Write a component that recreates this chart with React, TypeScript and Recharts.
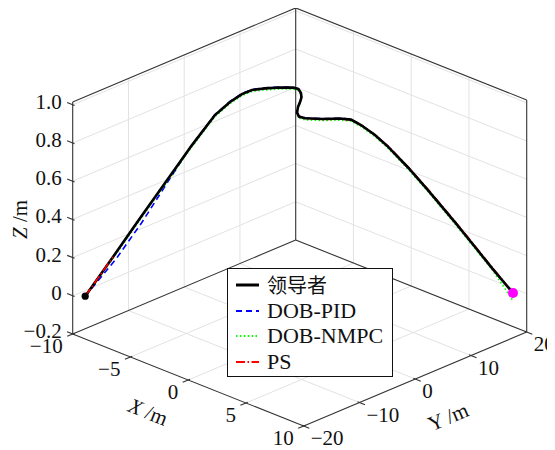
import React from 'react';
import { ComposedChart, XAxis, YAxis, Line, Scatter, Legend } from 'recharts';

// ---------- axes ----------
const X_LIM = [-10, 10];
const Y_LIM = [-20, 20];
const Z_LIM = [-0.2, 1.015];
const X_TICKS = [-10, -5, 0, 5, 10];
const Y_TICKS = [-20, -10, 0, 10, 20];
const Z_TICKS = [-0.2, 0, 0.2, 0.4, 0.6, 0.8, 1.0];
const X_TICK_LABELS = ['−10', '−5', '0', '5', '10'];
const Y_TICK_LABELS = ['−20', '−10', '0', '10', '20'];
const Z_TICK_LABELS = ['−0.2', '0', '0.2', '0.4', '0.6', '0.8', '1.0'];
const SERIES_NAMES = ['领导者', 'DOB-PID', 'DOB-NMPC', 'PS'];

// ---------- trajectories ----------
const leaderX = [-9.4, -8.19, -7.09, -5.91, -4.73, -3.73, -3.07, -2.55, -2.11, -1.54, -0.89, -0.32, -0.08, 0.03, 0.05, -0.01, -0.10, -0.14, -0.06, 0.21, 0.99, 1.74, 2.22, 2.65, 3.26, 3.83, 4.71, 5.58, 6.80, 7.64, 8.38, 9.30];
const leaderY = [-19.0, -16.53, -14.31, -11.91, -9.52, -7.47, -6.14, -5.08, -4.19, -3.03, -1.70, -0.55, -0.06, 0.16, 0.21, 0.08, -0.10, -0.19, -0.01, 0.52, 2.12, 3.63, 4.60, 5.49, 6.74, 7.89, 9.67, 11.44, 13.93, 15.62, 17.13, 18.99];
const leaderZ = [0.0, 0.204, 0.392, 0.589, 0.787, 0.943, 1.011, 1.052, 1.073, 1.081, 1.085, 1.084, 1.076, 1.055, 1.032, 1.008, 0.982, 0.953, 0.932, 0.923, 0.918, 0.920, 0.914, 0.885, 0.832, 0.771, 0.661, 0.542, 0.366, 0.242, 0.131, 0.0];

const pidX = [-9.4, -8.05, -6.94, -5.85, -4.73, -3.73, -3.07, -2.55, -2.11, -1.54, -0.89, -0.32, -0.08, 0.03, 0.05, -0.01, -0.10, -0.14, -0.06, 0.21, 0.99, 1.74, 2.22, 2.65, 3.26, 3.83, 4.71, 5.58, 6.80, 7.64, 8.38, 9.30];
const pidY = [-19.0, -16.26, -14.00, -11.78, -9.52, -7.47, -6.14, -5.08, -4.19, -3.03, -1.70, -0.55, -0.06, 0.16, 0.21, 0.08, -0.10, -0.19, -0.01, 0.52, 2.12, 3.63, 4.60, 5.49, 6.74, 7.89, 9.67, 11.44, 13.93, 15.62, 17.13, 18.99];
const pidZ = [0.0, 0.194, 0.381, 0.584, 0.789, 0.946, 1.014, 1.055, 1.076, 1.084, 1.087, 1.086, 1.078, 1.057, 1.034, 1.010, 0.984, 0.955, 0.934, 0.925, 0.920, 0.922, 0.916, 0.887, 0.834, 0.773, 0.663, 0.544, 0.368, 0.244, 0.133, 0.0];

const nmpcX = [-9.4, -8.19, -7.09, -5.91, -4.73, -3.73, -3.07, -2.55, -2.11, -1.54, -0.89, -0.32, -0.08, 0.03, 0.05, -0.01, -0.10, -0.14, -0.06, 0.21, 0.99, 1.74, 2.22, 2.65, 3.26, 3.83, 4.71, 5.58, 6.80, 7.64, 8.38, 9.30];
const nmpcY = [-19.0, -16.53, -14.31, -11.91, -9.52, -7.47, -6.14, -5.08, -4.19, -3.03, -1.70, -0.55, -0.06, 0.16, 0.21, 0.08, -0.10, -0.19, -0.01, 0.52, 2.12, 3.63, 4.60, 5.49, 6.74, 7.89, 9.67, 11.44, 13.93, 15.62, 17.13, 18.99];
const nmpcZ = [0.0, 0.196, 0.384, 0.581, 0.779, 0.935, 1.003, 1.044, 1.065, 1.073, 1.077, 1.076, 1.068, 1.047, 1.024, 1.000, 0.974, 0.945, 0.924, 0.915, 0.910, 0.912, 0.906, 0.877, 0.824, 0.763, 0.653, 0.534, 0.358, 0.234, 0.123, -0.04];

const psX = [-9.4, -8.19, -7.09, -5.91, -4.73, -3.73, -3.07, -2.55, -2.11, -1.54, -0.89, -0.32, -0.08, 0.03, 0.05, -0.01, -0.10, -0.14, -0.06, 0.21, 1.09, 1.84, 2.32, 2.75, 3.36, 3.93, 4.81, 5.68, 6.90, 7.74, 8.48, 9.30];
const psY = [-19.0, -16.53, -14.31, -11.91, -9.52, -7.47, -6.14, -5.08, -4.19, -3.03, -1.70, -0.55, -0.06, 0.16, 0.21, 0.08, -0.10, -0.19, -0.01, 0.52, 2.12, 3.63, 4.60, 5.49, 6.74, 7.89, 9.67, 11.44, 13.93, 15.62, 17.13, 18.99];
const psZ = [0.0, 0.204, 0.392, 0.589, 0.787, 0.943, 1.011, 1.052, 1.073, 1.081, 1.085, 1.084, 1.076, 1.055, 1.032, 1.008, 0.982, 0.953, 0.932, 0.923, 0.918, 0.920, 0.914, 0.885, 0.832, 0.771, 0.661, 0.542, 0.366, 0.242, 0.131, 0.0];

// ---------- view (3D -> page projection) ----------
const VIEW = { ox: 299.7, oy: 294.8, xx: 11.55, xy: 4.6, yx: 5.575, yy: -2.35, zy: -191 };
const PAGE = 8;
const W = 555;
const H = 450;
const FONT = '"Liberation Serif", "DejaVu Serif", serif';
const FS = 21;

type P = { px: number; py: number };
const proj = (x: number, y: number, z: number): P => ({
  px: VIEW.ox + VIEW.xx * x + VIEW.yx * y,
  py: VIEW.oy + VIEW.xy * x + VIEW.yy * y + VIEW.zy * z,
});
const norm = (a: number, b: number) => {
  const l = Math.hypot(a, b);
  return [a / l, b / l];
};
const EXN = norm(VIEW.xx, VIEW.xy);
const EYN = norm(VIEW.yx, VIEW.yy);
const off = (p: P, d: number[], k: number): P => ({ px: p.px + d[0] * k, py: p.py + d[1] * k });

const toPts = (xs: number[], ys: number[], zs: number[]) => xs.map((x, i) => proj(x, ys[i], zs[i]));
const leaderPts = toPts(leaderX, leaderY, leaderZ);
const pidPts = toPts(pidX, pidY, pidZ);
const nmpcPts = toPts(nmpcX, nmpcY, nmpcZ);
const psPts = toPts(psX, psY, psZ);

const [x0, x1] = X_LIM;
const [y0, y1] = Y_LIM;
const [z0, z1] = Z_LIM;

// grid lines on the three back panes
const gridSegs: P[][] = [];
X_TICKS.filter((t) => t > x0 && t < x1).forEach((t) => {
  gridSegs.push([proj(t, y0, z0), proj(t, y1, z0)]);
  gridSegs.push([proj(t, y1, z0), proj(t, y1, z1)]);
});
Y_TICKS.filter((t) => t > y0 && t < y1).forEach((t) => {
  gridSegs.push([proj(x0, t, z0), proj(x1, t, z0)]);
  gridSegs.push([proj(x0, t, z0), proj(x0, t, z1)]);
});
Z_TICKS.filter((t) => t > z0 && t < z1).forEach((t) => {
  gridSegs.push([proj(x0, y0, t), proj(x0, y1, t)]);
  gridSegs.push([proj(x0, y1, t), proj(x1, y1, t)]);
});

// pane edges
const edgeSegs: P[][] = [
  [proj(x0, y0, z0), proj(x0, y0, z1)],
  [proj(x0, y0, z1), proj(x0, y1, z1)],
  [proj(x0, y1, z1), proj(x1, y1, z1)],
  [proj(x1, y1, z0), proj(x1, y1, z1)],
  [proj(x0, y1, z0), proj(x0, y1, z1)],
  [proj(x0, y0, z0), proj(x0, y1, z0)],
  [proj(x0, y1, z0), proj(x1, y1, z0)],
  [proj(x0, y0, z0), proj(x1, y0, z0)],
  [proj(x1, y0, z0), proj(x1, y1, z0)],
];

// tick marks
const tickSegs: P[][] = [];
const mx = [-EXN[0], -EXN[1]];
const my = [-EYN[0], -EYN[1]];
Z_TICKS.forEach((t) => {
  const p = proj(x0, y0, t);
  tickSegs.push([off(p, mx, 6), off(p, mx, -2)]);
});
X_TICKS.forEach((t) => {
  const p = proj(t, y0, z0);
  tickSegs.push([off(p, my, 6), off(p, my, -2)]);
});
Y_TICKS.forEach((t) => {
  const p = proj(x1, t, z0);
  tickSegs.push([off(p, EXN, 6), off(p, EXN, -2)]);
});

// text labels
type Lab = P & { text: string; anchor: string; rot: number; ital?: string };
const labels: Lab[] = [];
Z_TICKS.forEach((t, i) => {
  const p = proj(x0, y0, t);
  labels.push({ px: p.px - 11, py: p.py - 3, text: Z_TICK_LABELS[i], anchor: 'end', rot: 0 });
});
X_TICKS.forEach((t, i) => {
  const p = proj(t, y0, z0);
  labels.push({ px: p.px - 10, py: p.py + 12, text: X_TICK_LABELS[i], anchor: 'end', rot: 0 });
});
Y_TICKS.forEach((t, i) => {
  const p = proj(x1, t, z0);
  labels.push({ px: p.px + 7, py: p.py + 12, text: Y_TICK_LABELS[i], anchor: 'start', rot: 0 });
});
const xMid = proj((x0 + x1) / 2, y0, z0);
const yMid = proj(x1, (y0 + y1) / 2, z0);
const zMid = proj(x0, y0, 0.4);
labels.push({ px: xMid.px - 40, py: xMid.py + 32, text: ' /m', ital: 'X', anchor: 'middle', rot: (Math.atan2(VIEW.xy, VIEW.xx) * 180) / Math.PI });
labels.push({ px: yMid.px + 33, py: yMid.py + 38, text: 'Y /m', anchor: 'middle', rot: (Math.atan2(VIEW.yy, VIEW.yx) * 180) / Math.PI });
labels.push({ px: zMid.px - 53, py: zMid.py, text: ' /m', ital: 'Z', anchor: 'middle', rot: -90 });

const TextShape = (props: any) => {
  const { cx, cy, payload } = props;
  if (cx == null || cy == null) return null;
  return (
    <text
      x={cx}
      y={cy}
      textAnchor={payload.anchor}
      dominantBaseline="central"
      fontFamily={FONT}
      fontSize={FS}
      fill="#111"
      transform={payload.rot ? `rotate(${payload.rot}, ${cx}, ${cy})` : undefined}
    >
      {payload.ital ? <tspan fontStyle="italic">{payload.ital}</tspan> : null}
      {payload.text}
    </text>
  );
};

const COLORS = ['#000000', '#0000ff', '#00ff00', '#ff0000'];
const WIDTHS = [2.6, 1.6, 1.6, 1.6];
const DASHES = [undefined, '6 4', '1.5 2.4', '9 2.5 1.5 2.5'];

const LegendBox = () => (
  <div
    style={{
      position: 'relative',
      boxSizing: 'border-box',
      width: 166,
      height: 109,
      border: '1.5px solid #111',
      background: '#fff',
    }}
  >
    {SERIES_NAMES.map((name, i) => (
      <div
        key={name}
        style={{
          position: 'absolute',
          left: 8,
          top: 16 + 25.6 * i - 13,
          height: 26,
          display: 'flex',
          alignItems: 'center',
          whiteSpace: 'nowrap',
        }}
      >
        <svg width={24} height={10} style={{ display: 'block' }}>
          <line x1={0} y1={5} x2={23} y2={5} stroke={COLORS[i]} strokeWidth={WIDTHS[i] + 0.4} strokeDasharray={DASHES[i]} />
        </svg>
        <span
          style={{
            marginLeft: 7,
            fontFamily: i === 0 ? '"Noto Sans CJK SC", sans-serif' : FONT,
            fontSize: i === 0 ? 20 : 22,
            color: '#111',
            lineHeight: '26px',
          }}
        >
          {name}
        </span>
      </div>
    ))}
  </div>
);

const seg = (pts: P[], key: string, color: string, width: number) => (
  <Line
    key={key}
    data={pts}
    dataKey="py"
    type="linear"
    stroke={color}
    strokeWidth={width}
    dot={false}
    activeDot={false}
    isAnimationActive={false}
    legendType="none"
  />
);

export default function App() {
  return (
    <ComposedChart width={W} height={H} margin={{ top: 0, right: 0, bottom: 0, left: 0 }}>
      <XAxis type="number" dataKey="px" domain={[PAGE, PAGE + W]} allowDataOverflow hide />
      <YAxis type="number" dataKey="py" domain={[PAGE, PAGE + H]} allowDataOverflow reversed hide />
      {gridSegs.map((s, i) => seg(s, `g${i}`, '#e2e2e2', 1))}
      {edgeSegs.map((s, i) => seg(s, `e${i}`, '#333333', 1.1))}
      {tickSegs.map((s, i) => seg(s, `t${i}`, '#333333', 1.1))}
      <Line data={pidPts} dataKey="py" type="linear" stroke={COLORS[1]} strokeWidth={WIDTHS[1]} strokeDasharray={DASHES[1]} dot={false} activeDot={false} isAnimationActive={false} />
      <Line data={nmpcPts} dataKey="py" type="linear" stroke={COLORS[2]} strokeWidth={WIDTHS[2]} strokeDasharray={DASHES[2]} dot={false} activeDot={false} isAnimationActive={false} />
      <Line data={psPts} dataKey="py" type="linear" stroke={COLORS[3]} strokeWidth={WIDTHS[3]} strokeDasharray={DASHES[3]} dot={false} activeDot={false} isAnimationActive={false} />
      <Line data={leaderPts} dataKey="py" type="linear" stroke={COLORS[0]} strokeWidth={WIDTHS[0]} dot={false} activeDot={false} isAnimationActive={false} />
      <Line data={psPts.slice(0, 2)} dataKey="py" type="linear" stroke={COLORS[3]} strokeWidth={WIDTHS[3]} strokeDasharray={DASHES[3]} dot={false} activeDot={false} isAnimationActive={false} legendType="none" />
      <Scatter data={[leaderPts[0]]} dataKey="py" isAnimationActive={false} shape={(p: any) => <circle cx={p.cx} cy={p.cy} r={3.6} fill="#000" />} />
      <Scatter data={[leaderPts[leaderPts.length - 1]]} dataKey="py" isAnimationActive={false} shape={(p: any) => <circle cx={p.cx} cy={p.cy} r={5} fill="#ff00ff" />} />
      <Scatter data={labels} dataKey="py" isAnimationActive={false} shape={TextShape} />
      <Legend
        layout="vertical"
        align="center"
        verticalAlign="middle"
        wrapperStyle={{ position: 'absolute', left: 219, top: 260, width: 166, height: 109, margin: 0, padding: 0 }}
        content={() => <LegendBox />}
      />
    </ComposedChart>
  );
}
